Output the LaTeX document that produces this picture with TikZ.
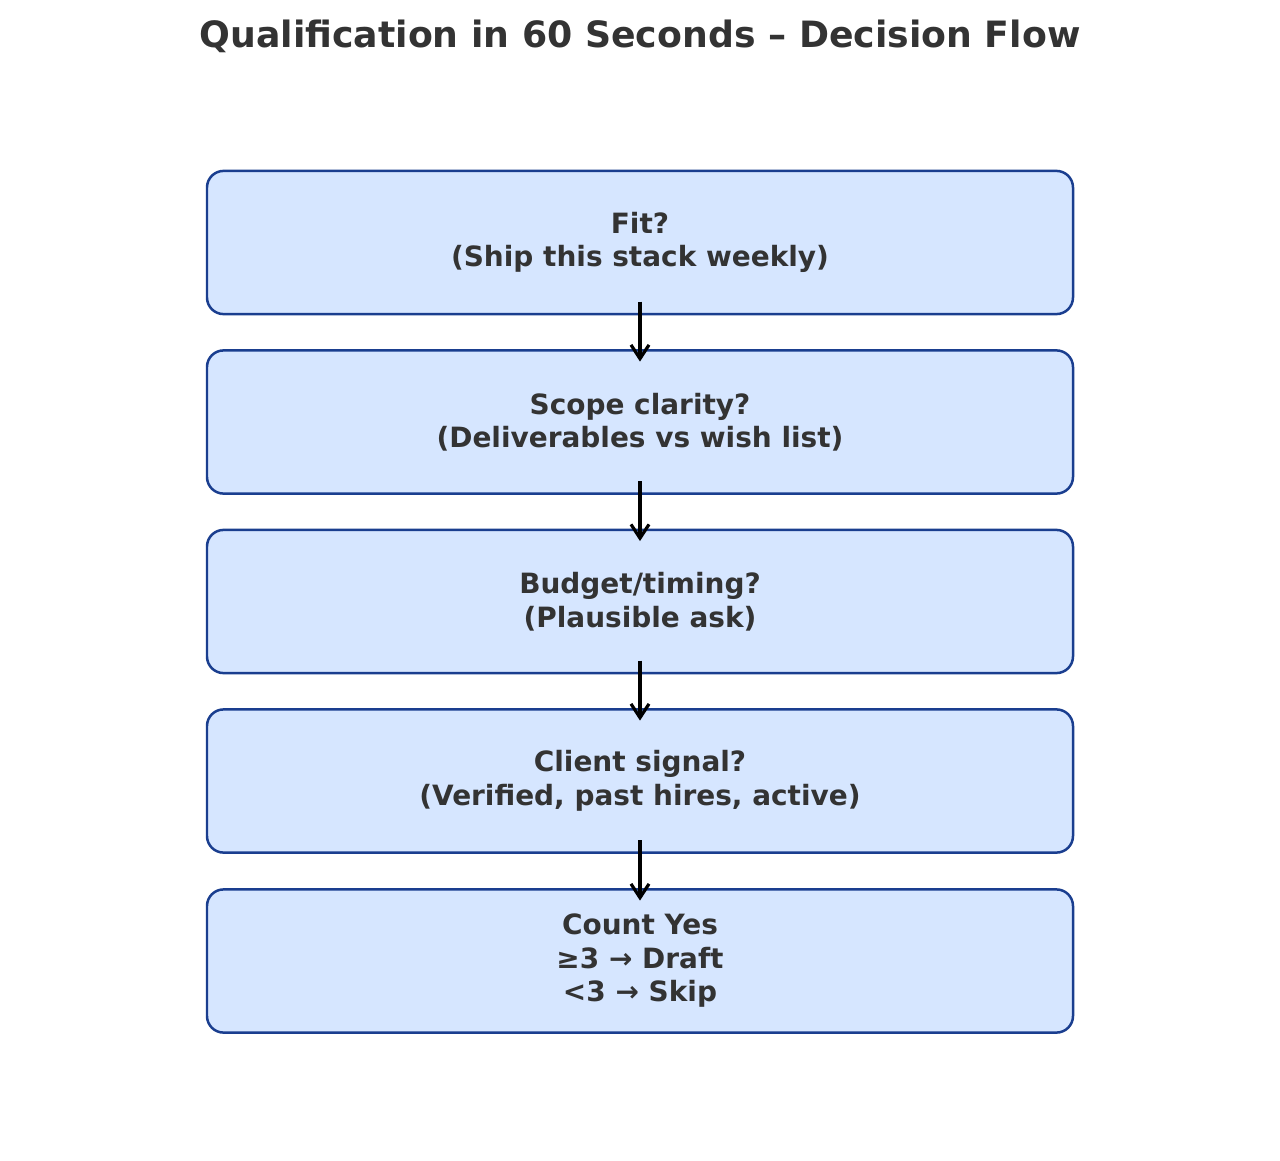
\documentclass[tikz,border=0pt]{standalone}
\usepackage{fontspec}
\setmainfont{DejaVu Sans}
\usetikzlibrary{arrows.meta}
\definecolor{boxfill}{HTML}{D6E6FF}
\definecolor{boxline}{HTML}{1A3E8F}
\definecolor{ink}{HTML}{333333}

\tikzstyle{step box}=[draw=boxline, fill=boxfill, line width=1.8pt, rounded corners=12pt, minimum width=626pt, minimum height=103.5pt, align=center, text=ink, font=\bfseries\fontsize{20.2}{24.2}\selectfont]
\tikzstyle{flow}=[line width=2.3pt, -{Straight Barb[length=10pt, width=13pt, line width=2.3pt]}]

\begin{document}
\begin{tikzpicture}[x=0.0254cm, y=-0.0254cm]
      \useasboundingbox (0, 0) rectangle (1280, 1161);
      \node[text=ink, font=\bfseries\fontsize{26.2}{31}\selectfont, anchor=base] (title) at (640, 47) {Qualification in 60 Seconds – Decision Flow};

      \node[step box] (fit) at (640, 242.5) {Fit?\\(Ship this stack weekly)};
      \node[step box] (scope) at (640, 422) {Scope clarity?\\(Deliverables vs wish list)};
      \node[step box] (budget) at (640, 601.5) {Budget/timing?\\(Plausible ask)};
      \node[step box] (client) at (640, 781) {Client signal?\\(Verified, past hires, active)};
      \node[step box] (count) at (640, 961) {Count Yes\\≥3 → Draft\\<3 → Skip};

      \draw[flow] ([yshift=10pt]fit.south) -- ([yshift=-9pt]scope.north);
      \draw[flow] ([yshift=10pt]scope.south) -- ([yshift=-9pt]budget.north);
      \draw[flow] ([yshift=10pt]budget.south) -- ([yshift=-9pt]client.north);
      \draw[flow] ([yshift=10pt]client.south) -- ([yshift=-9pt]count.north);
    \end{tikzpicture}
\end{document}
